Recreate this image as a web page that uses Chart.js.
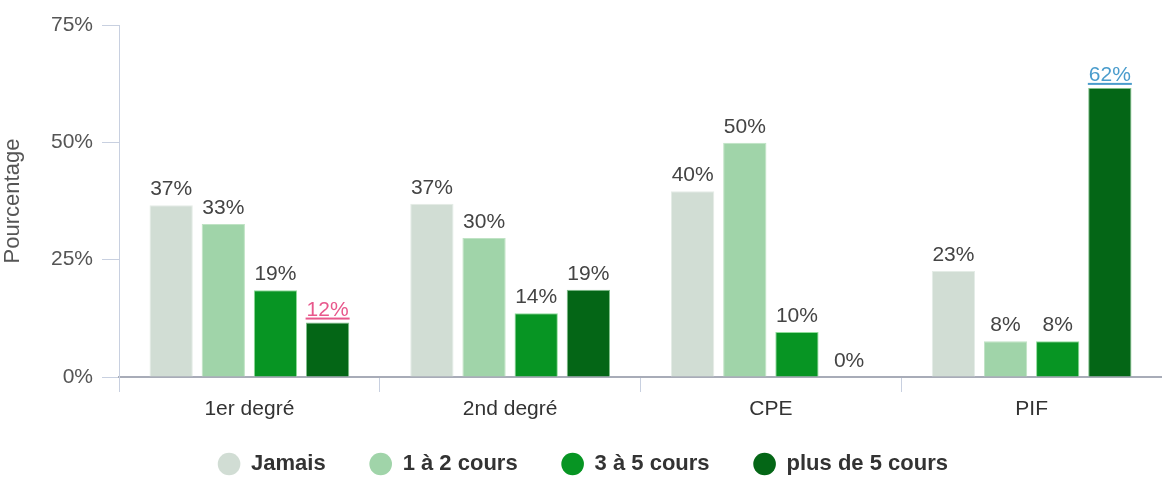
<!DOCTYPE html>
<html><head><meta charset="utf-8">
<script src="https://cdn.jsdelivr.net/npm/chart.js@4.4.1/dist/chart.umd.min.js"></script>
<style>html,body{margin:0;padding:0;background:#fff;}#wrap{width:1162px;height:477px;}</style>
</head><body><div id="wrap"><canvas id="c" width="1162" height="477"></canvas></div>
<script>
const categories = ["1er degré", "2nd degré", "CPE", "PIF"];
const seriesNames = ["Jamais", "1 à 2 cours", "3 à 5 cours", "plus de 5 cours"];
const jamais = [36.6, 36.9, 39.6, 22.6];
const unADeux = [32.6, 29.6, 49.9, 7.6];
const troisACinq = [18.5, 13.6, 9.6, 7.6];
const plusDeCinq = [11.6, 18.6, 0, 61.6];
const yTicks = [0, 25, 50, 75];
const colors = ["#d1ddd4", "#a0d4a9", "#079523", "#046616"];
const borders = ["#e4ece6", "#bfe3c4", "#8fdc9a", "#7fc08a"];
// highlighted labels: [datasetIndex, categoryIndex, color]
const highlights = [[3, 0, "#e8588c"], [3, 3, "#4a9ccc"]];

const FONT = "'Liberation Sans', Arial, sans-serif";
const allSeries = [jamais, unADeux, troisACinq, plusDeCinq];
const LEGEND_PAD = 44;

const labelPlugin = {
  id: 'valueLabels',
  afterInit(chart) {
    const lg = chart.legend;
    if (lg) {
      const origFit = lg.fit;
      lg.fit = function () { origFit.call(this); this.height = 55; };
      const origDraw = lg.draw;
      lg.draw = function () {
        const top = this.top, left = this.left;
        // move the legend row up to its place under the axis (clip box grows upward)
        this.top = 464 - (LEGEND_PAD + 11);
        this.left = left + 4;
        origDraw.apply(this, arguments);
        this.top = top; this.left = left;
      };
    }
  },
  afterDatasetsDraw(chart) {
    const ctx = chart.ctx;
    ctx.save();
    ctx.font = "21px " + FONT;
    ctx.textAlign = "center";
    ctx.textBaseline = "alphabetic";
    chart.data.datasets.forEach((ds, di) => {
      const meta = chart.getDatasetMeta(di);
      meta.data.forEach((bar, i) => {
        const txt = Math.round(ds.data[i]) + "%";
        const h = highlights.find(h => h[0] === di && h[1] === i);
        if (h) {
          ctx.fillStyle = h[2];
          const by = bar.y - 7;
          ctx.fillText(txt, bar.x, by);
          const w = ctx.measureText(txt).width;
          ctx.fillRect(bar.x - w / 2 - 1, by + 2, w + 2, 2);
        } else {
          ctx.fillStyle = "#444";
          ctx.fillText(txt, bar.x, bar.y - 10);
        }
      });
    });
    ctx.restore();
  }
};

new Chart(document.getElementById('c'), {
  type: 'bar',
  data: {
    labels: categories,
    datasets: allSeries.map((d, i) => ({
      label: seriesNames[i],
      data: d,
      backgroundColor: colors[i],
      borderColor: borders[i],
      borderWidth: 1,
      categoryPercentage: 0.8,
      barPercentage: 0.83
    }))
  },
  options: {
    responsive: false,
    animation: false,
    events: [],
    layout: { padding: { top: 25, right: 0, left: 0, bottom: 0 } },
    plugins: {
      tooltip: { enabled: false },
      legend: {
        position: 'bottom',
        labels: {
          usePointStyle: true,
          pointStyle: 'circle',
          boxWidth: 22,
          boxHeight: 16,
          padding: LEGEND_PAD,
          color: "#333",
          font: { family: FONT, size: 22, weight: 'bold' },
          generateLabels(chart) {
            return chart.data.datasets.map((ds, i) => ({
              text: ds.label,
              fillStyle: colors[i],
              strokeStyle: colors[i],
              lineWidth: 0,
              pointStyle: 'circle',
              fontColor: "#333",
              datasetIndex: i,
              hidden: false
            }));
          }
        }
      }
    },
    scales: {
      x: {
        grid: { display: true, offset: true, drawOnChartArea: false, tickLength: 15, color: "#c8d0e0" },
        border: { color: "#a8acb8", width: 2 },
        ticks: { color: "#333", font: { family: FONT, size: 21 }, padding: 5 },
        afterFit(s) { s.height = 45; }
      },
      y: {
        min: 0, max: 75,
        afterBuildTicks(s) { s.ticks = yTicks.map(v => ({ value: v })); },
        grid: { drawOnChartArea: false, tickLength: 17, color: "#c8d0e0" },
        border: { color: "#c8d0e0", width: 1 },
        ticks: { color: "#555", font: { family: FONT, size: 21 }, padding: 9, callback: v => v + "%" },
        title: { display: true, text: "Pourcentage", color: "#555", font: { family: FONT, size: 22 }, padding: 0 },
        afterFit(s) { s.width = 119; }
      }
    }
  },
  plugins: [labelPlugin]
});
</script></body></html>
